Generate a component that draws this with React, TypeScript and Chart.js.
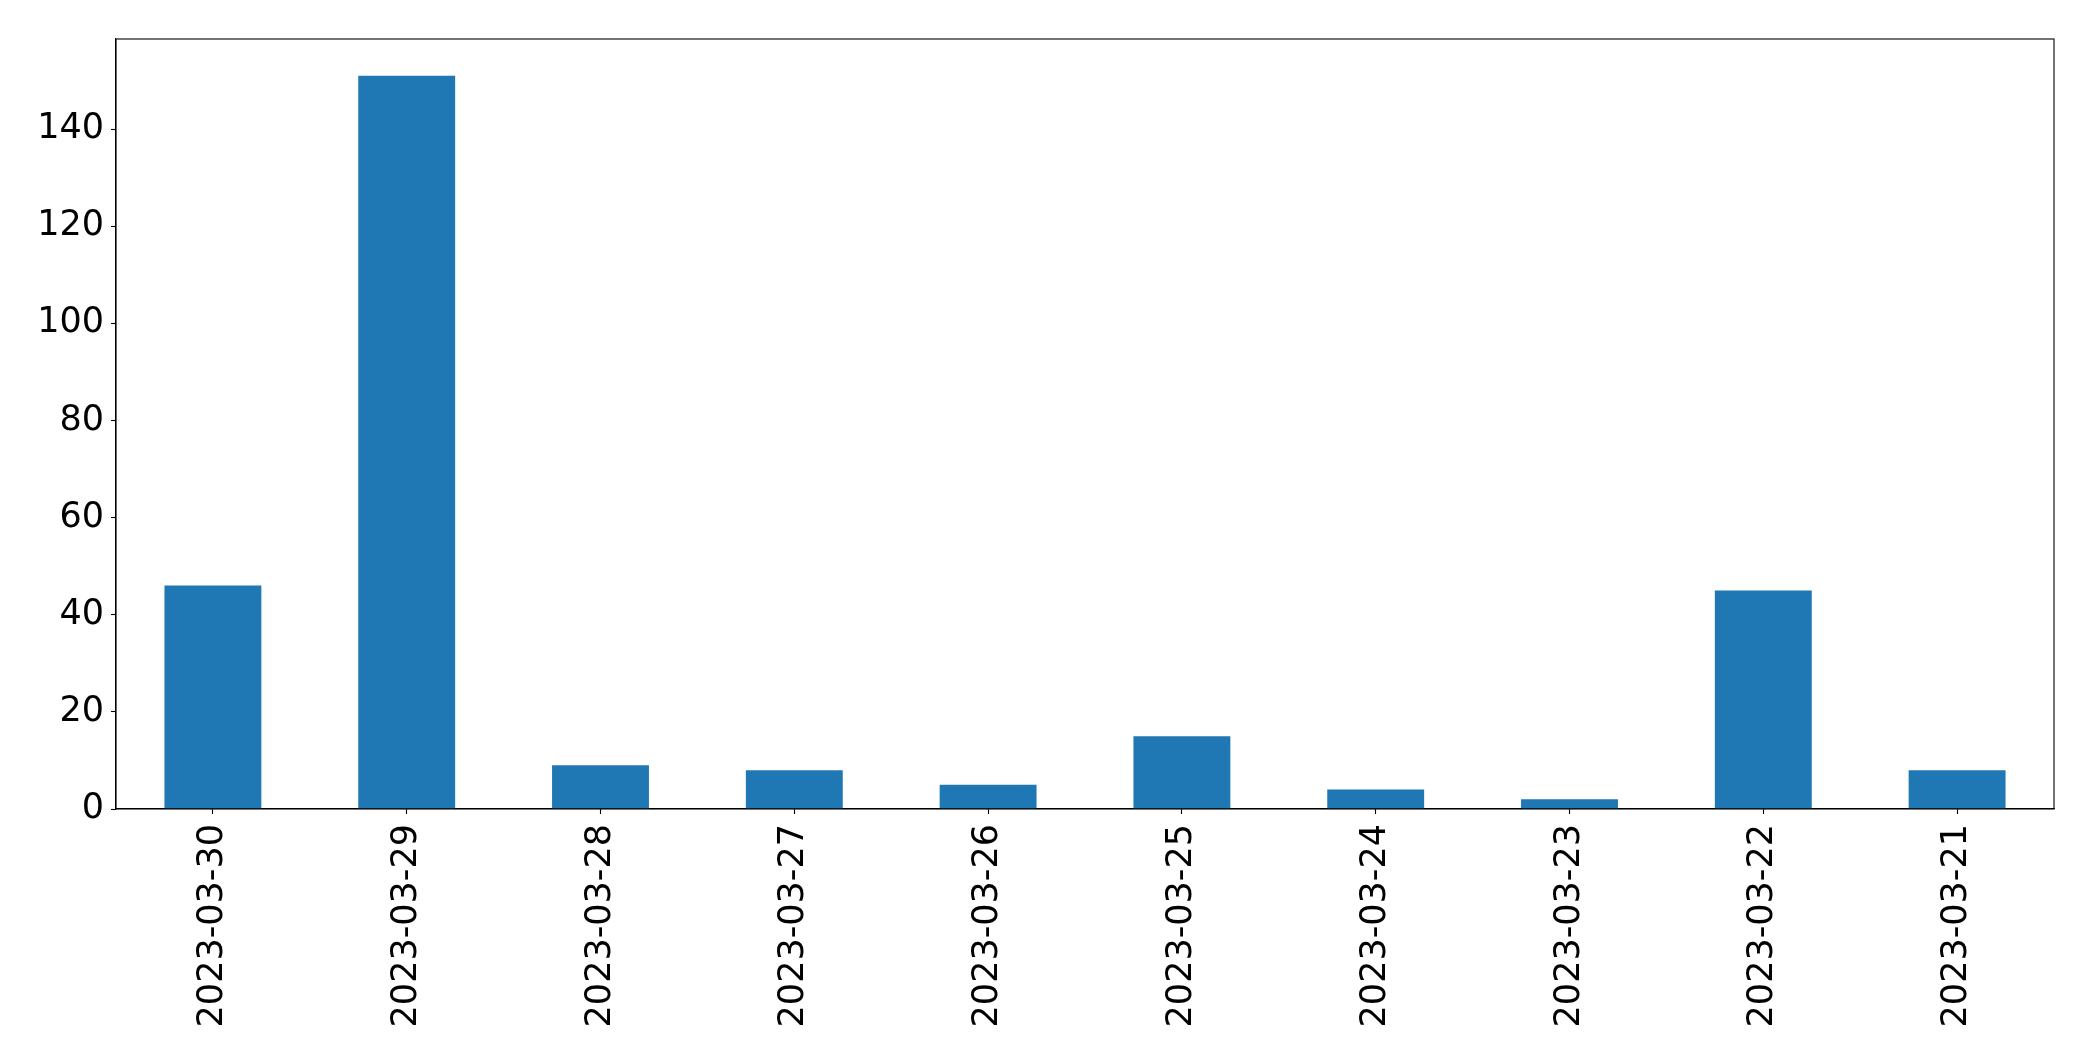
import React, { useEffect, useRef } from "react";
import { Chart, registerables } from "chart.js";

Chart.register(...registerables);

const categories = [
  "2023-03-30",
  "2023-03-29",
  "2023-03-28",
  "2023-03-27",
  "2023-03-26",
  "2023-03-25",
  "2023-03-24",
  "2023-03-23",
  "2023-03-22",
  "2023-03-21",
];
const counts = [46, 151, 9, 8, 5, 15, 4, 2, 45, 8];
const yTicks = [0, 20, 40, 60, 80, 100, 120, 140];
const yMax = 158.55;

const W = 2093;
const H = 1061;

const frame = {
  id: "frame",
  afterDraw(chart: any) {
    const { ctx, chartArea } = chart;
    ctx.save();
    ctx.strokeStyle = "#000";
    ctx.lineWidth = 1.1;
    ctx.strokeRect(chartArea.left, chartArea.top, chartArea.right - chartArea.left, chartArea.bottom - chartArea.top);
    ctx.restore();
  },
};

export default function App() {
  const ref = useRef<HTMLCanvasElement>(null);
  useEffect(() => {
    document.body.style.margin = "0";
    const chart = new Chart(ref.current!, {
      type: "bar",
      data: {
        labels: categories,
        datasets: [
          {
            data: counts,
            backgroundColor: "#1f77b4",
            barPercentage: 0.5,
            categoryPercentage: 1,
          },
        ],
      },
      options: {
        responsive: false,
        animation: false,
        layout: { padding: { top: 39, right: 39, left: 0, bottom: 0 } },
        plugins: { legend: { display: false }, tooltip: { enabled: false } },
        scales: {
          x: {
            offset: true,
            grid: { display: true, offset: false, drawOnChartArea: false, drawTicks: true, tickLength: 5, tickColor: "#000", tickWidth: 1.1 },
            border: { display: true, color: "#000", width: 1.1 },
            ticks: {
              color: "#000",
              font: { family: "'DejaVu Sans', sans-serif", size: 35 },
              maxRotation: 90,
              minRotation: 90,
              padding: 10,
              autoSkip: false,
            },
            afterFit: (s: any) => {
              s.height = H - 809;
            },
          },
          y: {
            min: 0,
            max: yMax,
            grid: { display: true, drawOnChartArea: false, drawTicks: true, tickLength: 5, tickColor: "#000", tickWidth: 1.1 },
            border: { display: true, color: "#000", width: 1.1 },
            ticks: {
              color: "#000",
              font: { family: "'DejaVu Sans', sans-serif", size: 35 },
              padding: 7,
            },
            afterBuildTicks: (s: any) => {
              s.ticks = yTicks.map((v) => ({ value: v }));
            },
            afterFit: (s: any) => {
              s.width = 116;
            },
          },
        },
      },
      plugins: [frame],
    });
    return () => chart.destroy();
  }, []);
  return (
    <div style={{ position: "absolute", left: 0, top: 0, width: W, height: H, background: "#fff" }}>
      <canvas ref={ref} width={W} height={H} style={{ width: W, height: H, display: "block" }} />
    </div>
  );
}
